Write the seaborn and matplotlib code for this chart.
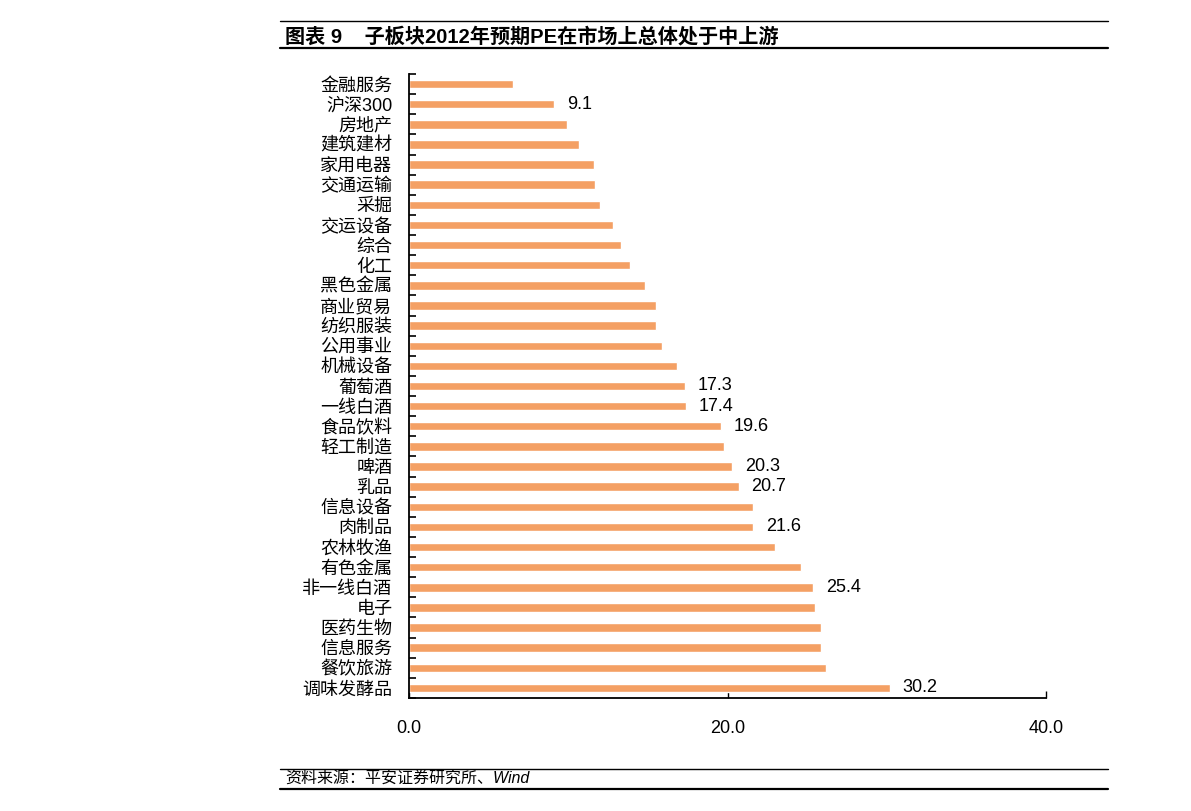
import matplotlib
matplotlib.use('Agg')
import matplotlib.pyplot as plt
import seaborn as sns
import pandas as pd

# Sector names (top to bottom) and forward PE for 2012
sectors = ['金融服务', '沪深300', '房地产', '建筑建材', '家用电器', '交通运输', '采掘',
           '交运设备', '综合', '化工', '黑色金属', '商业贸易', '纺织服装', '公用事业',
           '机械设备', '葡萄酒', '一线白酒', '食品饮料', '轻工制造', '啤酒', '乳品',
           '信息设备', '肉制品', '农林牧渔', '有色金属', '非一线白酒', '电子',
           '医药生物', '信息服务', '餐饮旅游', '调味发酵品']
pe = [6.5, 9.1, 9.9, 10.7, 11.6, 11.7, 12.0,
      12.8, 13.3, 13.85, 14.8, 15.5, 15.5, 15.9,
      16.8, 17.3, 17.4, 19.6, 19.8, 20.3, 20.7,
      21.6, 21.6, 23.0, 24.6, 25.4, 25.5,
      25.9, 25.9, 26.2, 30.2]
# Bars that carry a value label
labelled = ['沪深300', '葡萄酒', '一线白酒', '食品饮料', '啤酒', '乳品', '肉制品',
            '非一线白酒', '调味发酵品']
x_ticks = [0, 20, 40]

df = pd.DataFrame({'sector': sectors, 'pe': pe})

sns.set_style('white')
plt.rcParams['font.family'] = ['Liberation Sans', 'Noto Sans CJK SC', 'DejaVu Sans']
plt.rcParams['text.color'] = 'black'
plt.rcParams['xtick.color'] = 'black'
plt.rcParams['ytick.color'] = 'black'

fig = plt.figure(figsize=(11.91, 8.11), dpi=100)
ax = fig.add_axes([409 / 1191, 1 - 698 / 811, 637 / 1191, 624 / 811])

sns.barplot(data=df, x='pe', y='sector', orient='h', color='#F4A064',
            saturation=1, width=0.42, ax=ax)

ax.set_xlim(0, 40)
ax.set_ylim(len(sectors) - 0.5, -0.5)
ax.set_xticks(x_ticks)
ax.set_xticklabels([f'{v:.1f}' for v in x_ticks], fontsize=13)
ax.set_xlabel('')
ax.set_ylabel('')

# category labels sit between the boundary ticks
ax.set_yticks(range(len(sectors)))
ax.set_yticklabels(sectors, fontsize=13)
ax.set_yticks([i - 0.5 for i in range(len(sectors) + 1)], minor=True)
ax.tick_params(axis='y', which='major', left=False, length=0, pad=12)
ax.tick_params(axis='y', which='minor', left=True, direction='in', length=5,
               width=1.2, color='black')
ax.tick_params(axis='x', bottom=True, direction='in', length=5, width=1,
               color='black', pad=16)

for side in ['top', 'right']:
    ax.spines[side].set_visible(False)
for side in ['left', 'bottom']:
    ax.spines[side].set_color('black')
    ax.spines[side].set_linewidth(1.3)

for i, (s, v) in enumerate(zip(sectors, pe)):
    if s in labelled:
        ax.text(v + 0.8, i, f'{v:.1f}', va='center', ha='left', fontsize=13)

# title block
fig.add_artist(plt.Line2D([280 / 1191, 1108 / 1191], [1 - 21 / 811] * 2, color='black', lw=1))
fig.add_artist(plt.Line2D([280 / 1191, 1108 / 1191], [1 - 48 / 811] * 2, color='black', lw=1.6))
fig.text(285 / 1191, 1 - 37 / 811, '图表 9    子板块2012年预期PE在市场上总体处于中上游',
         fontsize=14.5, fontweight='bold', va='center', ha='left')

# source footer
fig.add_artist(plt.Line2D([280 / 1191, 1108 / 1191], [1 - 769 / 811] * 2, color='black', lw=1))
fig.add_artist(plt.Line2D([280 / 1191, 1108 / 1191], [1 - 789 / 811] * 2, color='black', lw=1.6))
fig.text(285 / 1191, 1 - 779 / 811, '资料来源：平安证券研究所、Wind',
         fontsize=11.5, fontstyle='italic', va='center', ha='left')

plt.savefig('out.png', dpi=100)
